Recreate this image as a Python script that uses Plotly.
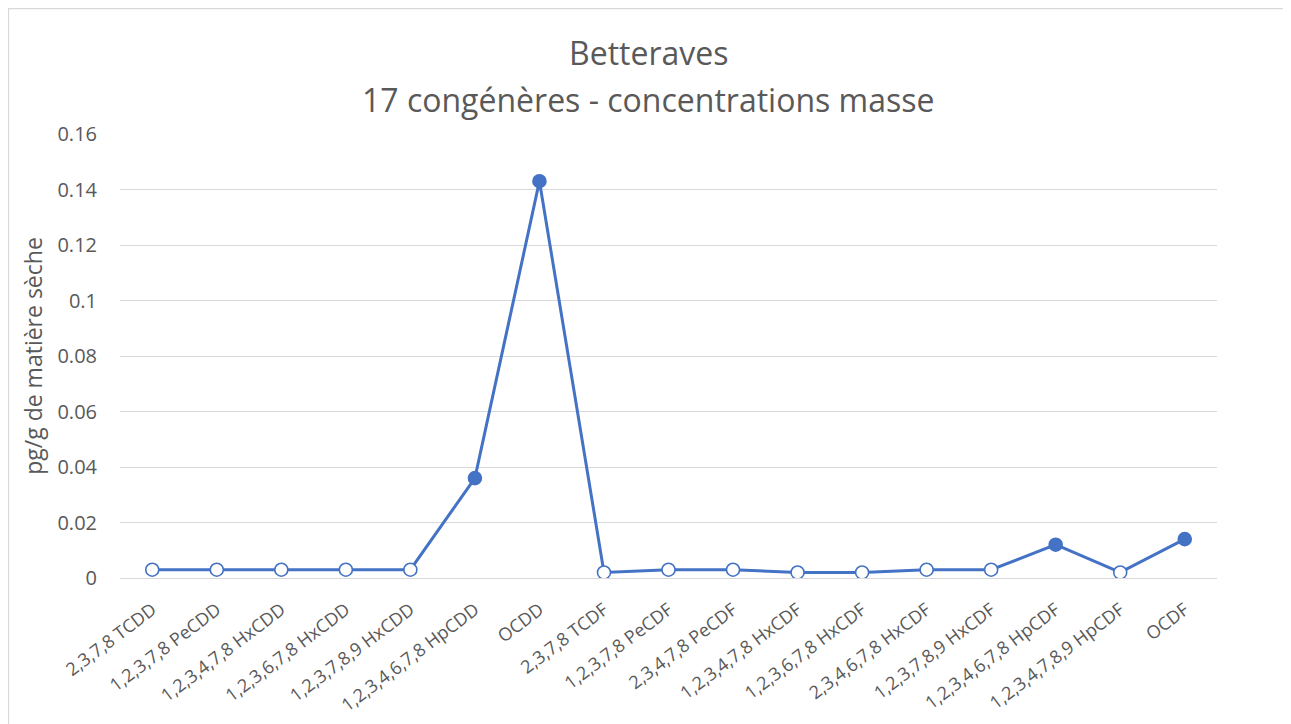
import plotly.graph_objects as go

categories = [
    "2,3,7,8 TCDD", "1,2,3,7,8 PeCDD", "1,2,3,4,7,8 HxCDD", "1,2,3,6,7,8 HxCDD",
    "1,2,3,7,8,9 HxCDD", "1,2,3,4,6,7,8 HpCDD", "OCDD", "2,3,7,8 TCDF",
    "1,2,3,7,8 PeCDF", "2,3,4,7,8 PeCDF", "1,2,3,4,7,8 HxCDF", "1,2,3,6,7,8 HxCDF",
    "2,3,4,6,7,8 HxCDF", "1,2,3,7,8,9 HxCDF", "1,2,3,4,6,7,8 HpCDF",
    "1,2,3,4,7,8,9 HpCDF", "OCDF",
]
values = [0.003, 0.003, 0.003, 0.003, 0.003, 0.036, 0.143, 0.002,
          0.003, 0.003, 0.002, 0.002, 0.003, 0.003, 0.012, 0.002, 0.014]
# True = quantified (filled marker), False = below limit (open marker)
quantified = [False, False, False, False, False, True, True, False,
              False, False, False, False, False, False, True, False, True]

title_lines = ["Betteraves", "17 congénères - concentrations masse"]
y_title = "pg/g de matière sèche"
y_ticks = [0, 0.02, 0.04, 0.06, 0.08, 0.1, 0.12, 0.14, 0.16]
y_tick_labels = ["0", "0.02", "0.04", "0.06", "0.08", "0.1", "0.12", "0.14", "0.16"]

BLUE = "#4472C4"
GREY = "#595959"
FONT = "Open Sans"

fill_colors = [BLUE if q else "white" for q in quantified]

fig = go.Figure()
fig.add_trace(go.Scatter(
    x=categories, y=values, mode="lines+markers",
    line=dict(color=BLUE, width=3),
    marker=dict(symbol="circle", size=13, color=fill_colors,
                line=dict(color=BLUE, width=1.6)),
    showlegend=False,
))

# page offset of 8px (body margin) compensated
OFF = 8
L, R, T, B = 120 - OFF, 1217 - OFF, 134 - OFF, 578 - OFF
W, H = 1291, 724

def px(x):
    return (x - OFF - L) / (R - L)

def py(y):
    return (B - (y - OFF)) / (B - T)

title_y = [53, 100]

fig.update_layout(
    width=W, height=H,
    margin=dict(l=L, r=W - R, t=T, b=H - B, autoexpand=False),
    paper_bgcolor="white", plot_bgcolor="white",
    font=dict(family=FONT, color=GREY),
    xaxis=dict(
        type="category", tickangle=-37, showgrid=False, showline=False,
        ticks="", tickfont=dict(family=FONT, size=18, color=GREY),
        ticklabelstandoff=17, automargin=False,
        range=[-0.5, len(categories) - 0.5],
    ),
    yaxis=dict(
        range=[0, 0.16], tickvals=y_ticks, ticktext=y_tick_labels,
        showgrid=True, gridcolor="#D9D9D9", gridwidth=1.3,
        zeroline=True, zerolinecolor="#D9D9D9", zerolinewidth=1.3,
        showline=False, ticks="", ticklen=0, ticklabelstandoff=22,
        automargin=False,
        tickfont=dict(family=FONT, size=20, color=GREY),
        title=dict(text=y_title,
                   font=dict(family=FONT, size=23, color=GREY), standoff=8),
    ),
    annotations=[
        dict(text=t, xref="paper", yref="paper", x=px(648), y=py(yy),
             xanchor="center", yanchor="middle", showarrow=False,
             font=dict(family=FONT, size=32, color=GREY))
        for t, yy in zip(title_lines, title_y)
    ],
    shapes=[dict(
        type="rect", xref="paper", yref="paper",
        x0=px(8.5), x1=px(1290), y0=py(740), y1=py(8.5),
        line=dict(color="#D9D9D9", width=1.3), fillcolor="rgba(0,0,0,0)",
        layer="below",
    )],
)

fig.write_html("out.html")
